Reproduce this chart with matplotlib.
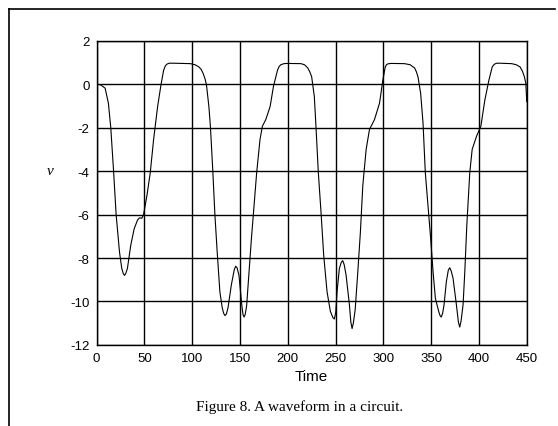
import matplotlib.pyplot as plt
from matplotlib.lines import Line2D

plt.rcParams['axes.unicode_minus'] = False

# waveform
time = [0, 4, 9, 12.4, 14.9, 17.7, 20.5, 24.0, 26.4, 28, 29.2, 30.5, 32.3, 35.8,
        39.4, 42.9, 45, 47.4, 49.2, 52.7, 56.2, 59.7, 63.9, 67.4, 70.2, 72, 73.7,
        76, 80.7, 98.2, 103, 107, 109.5, 111.5, 113.5, 115, 117.5, 119.2, 121.7,
        123.8, 126.2, 129.0, 131.5, 133, 134.3, 135.8, 137.5, 141, 144, 145.5,
        147, 149, 152, 153.2, 154.3, 155.5, 157, 159.5, 162, 164.8, 167.5, 171,
        173.5, 177, 181.6, 185, 189.3, 191, 192.8, 196, 199.9, 213.8, 217.5,
        220.8, 223, 225, 227.8, 229.5, 232, 234.8, 237.6, 241.1, 244.6, 247.3,
        248.8, 250.2, 251.6, 254, 256, 257.5, 259, 261, 264.5, 266, 267.3, 268.6,
        270.5, 273.3, 276, 278.5, 282, 285.5, 290.7, 296, 299.5, 302, 303.3,
        304.7, 308, 322.2, 328, 332.7, 334.5, 336.2, 339, 341.5, 343.9, 346.7,
        349.5, 352, 354.4, 357.9, 359.3, 360.5, 362, 363.5, 365.9, 368, 369.5,
        371, 372.9, 376.4, 378.5, 379.9, 381.3, 383.4, 385.2, 387.3, 390.4, 392.9,
        397.5, 402, 406.2, 410.4, 413.9, 416, 418.5, 422, 434.2, 439, 443, 445.5,
        447.5, 449, 450]
v = [0, -0.02, -0.18, -0.87, -2.0, -3.91, -6.0, -7.72, -8.48, -8.72, -8.8, -8.72,
     -8.48, -7.41, -6.65, -6.25, -6.15, -6.17, -6.0, -5.13, -4.07, -2.54, -1.02,
     -0.03, 0.65, 0.85, 0.93, 0.97, 0.97, 0.95, 0.9, 0.80, 0.68, 0.5, 0.25,
     -0.03, -1.02, -2.0, -4.07, -6.0, -7.72, -9.55, -10.3, -10.55, -10.65,
     -10.58, -10.3, -9.24, -8.55, -8.38, -8.45, -8.8, -10.2, -10.6, -10.72,
     -10.6, -10.2, -8.63, -7.11, -5.59, -4.07, -2.54, -1.93, -1.63, -1.02,
     -0.11, 0.65, 0.82, 0.9, 0.95, 0.96, 0.95, 0.9, 0.76, 0.58, 0.35, -0.56,
     -1.93, -4.07, -5.89, -7.87, -9.55, -10.46, -10.75, -10.81, -10.5, -9.55,
     -8.48, -8.2, -8.12, -8.3, -8.78, -10.15, -10.95, -11.25, -11.0, -10.4,
     -8.63, -6.8, -4.67, -3.0, -2.08, -1.63, -0.87, 0.19, 0.8, 0.9, 0.94, 0.96,
     0.95, 0.9, 0.75, 0.58, 0.35, -0.41, -1.78, -4.07, -5.59, -7.11, -8.63,
     -9.85, -10.46, -10.65, -10.72, -10.55, -10.15, -9.09, -8.55, -8.45, -8.6,
     -8.93, -10.15, -10.95, -11.18, -10.9, -10.15, -8.63, -6.5, -4.07, -3.0,
     -2.39, -1.93, -0.72, 0.19, 0.8, 0.92, 0.97, 0.97, 0.95, 0.9, 0.8, 0.6,
     0.35, 0.05, -0.8]

xticks = list(range(0, 451, 50))
yticks = list(range(-12, 3, 2))

fig = plt.figure(figsize=(5.58, 4.27), dpi=100)
ax = fig.add_axes([0.173, 0.19, 0.771, 0.712])

ax.plot(time, v, color='black', linewidth=0.8)
ax.set_xlim(0, 450)
ax.set_ylim(-12, 2)
ax.set_xticks(xticks)
ax.set_yticks(yticks)
ax.grid(True, color='black', linewidth=1.0)
ax.tick_params(length=0, labelsize=9.5, pad=5)
for lab in ax.get_xticklabels() + ax.get_yticklabels():
    lab.set_family('Liberation Sans')
for s in ax.spines.values():
    s.set_linewidth(1.0)

ax.set_xlabel('Time', family='Liberation Sans', fontsize=11, labelpad=4)
fig.text(50 / 558, 1 - 172 / 427, 'v', family='Liberation Serif', style='italic',
         fontsize=11, ha='center', va='center')
fig.text(300 / 558, 1 - 407 / 427, 'Figure 8. A waveform in a circuit.',
         family='Liberation Serif', fontsize=11, ha='center', va='center')

# scanned page frame (top and left edges)
fig.add_artist(Line2D([9 / 558, 9 / 558], [0, 1 - 10 / 427], color='black', linewidth=1.2))
fig.add_artist(Line2D([9 / 558, 555 / 558], [1 - 10 / 427, 1 - 10 / 427], color='black', linewidth=1.2))

fig.savefig('out.png', dpi=100)
